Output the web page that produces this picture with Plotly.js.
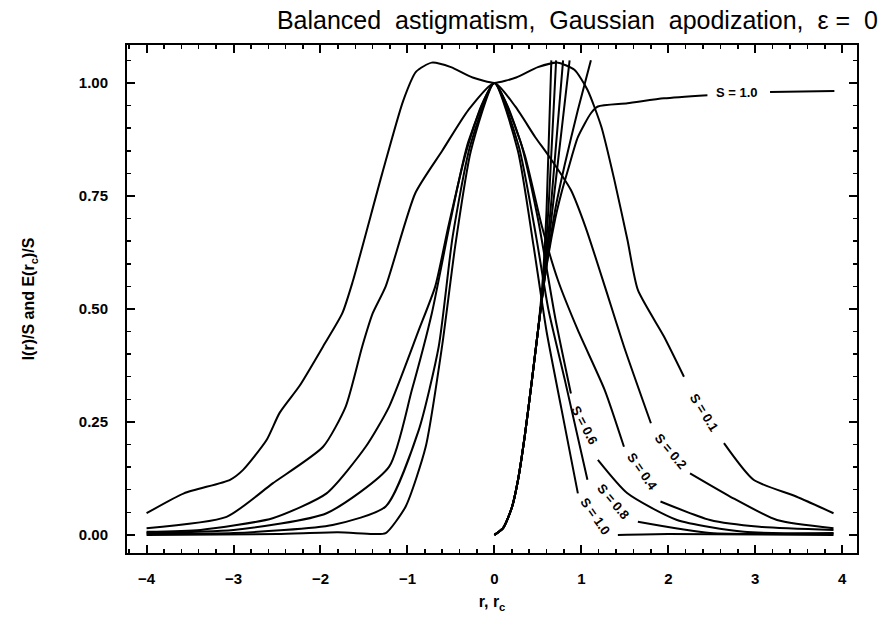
<!DOCTYPE html>
<html>
<head>
<meta charset="utf-8">
<script src="https://cdn.plot.ly/plotly-3.0.1.min.js"></script>
<style>html,body{margin:0;padding:0;background:#fff;}</style>
</head>
<body>
<div id="chart" style="width:887px;height:626px;"></div>
<script>
// ---- Data ----
// Point-spread curves I(r)/S (null = gap where the curve label sits)
const psf01X = [-4.0,-3.57,-3.04,-2.89,-2.62,-2.47,-2.24,-1.97,-1.75,-1.63,-1.29,-1.05,-0.9,-0.72,-0.5,-0.25,0,0.25,0.5,0.73,0.92,1.07,1.23,1.38,1.53,1.65,1.95,2.18,null,2.64,2.98,3.47,3.9];
const psf01Y = [0.048,0.092,0.122,0.144,0.21,0.27,0.33,0.417,0.49,0.56,0.80,0.96,1.025,1.045,1.035,1.012,1.0,1.012,1.035,1.045,1.029,0.985,0.903,0.785,0.653,0.542,0.439,0.35,null,0.203,0.122,0.085,0.048];

const psf02X = [-4.0,-3.08,-2.55,-1.97,-1.71,-1.52,-1.40,-1.25,-0.91,-0.6,-0.3,0,0.24,0.47,0.62,0.88,1.05,1.27,1.49,1.80,null,2.25,2.71,3.25,3.9];
const psf02Y = [0.015,0.04,0.114,0.195,0.284,0.417,0.49,0.55,0.756,0.85,0.94,1.0,0.948,0.88,0.84,0.763,0.68,0.55,0.417,0.247,null,0.136,0.085,0.033,0.015];

const psf04X = [-4.0,-3.38,-2.55,-1.93,-1.48,-1.21,-0.87,-0.68,-0.53,-0.33,-0.15,0,0.15,0.35,0.55,0.73,0.96,1.27,1.49,null,1.91,2.48,3.05,3.9];
const psf04Y = [0.007,0.011,0.037,0.092,0.195,0.284,0.453,0.55,0.682,0.844,0.95,1.0,0.95,0.84,0.68,0.564,0.453,0.32,0.195,null,0.074,0.033,0.018,0.011];

const psf06X = [-4.0,-3.0,-1.93,-1.21,-0.95,-0.72,-0.5,-0.3,0,0.3,0.5,0.7,0.88,null,1.19,1.53,2.1,2.87,3.9];
const psf06Y = [0.005,0.011,0.048,0.151,0.32,0.49,0.7,0.87,1.0,0.87,0.7,0.48,0.313,null,0.166,0.092,0.033,0.007,0.004];

const psf08X = [-4.0,-3.0,-1.86,-1.25,-0.87,-0.64,-0.48,-0.28,0,0.28,0.48,0.62,0.81,1.07,null,1.65,2.48,3.9];
const psf08Y = [0.003,0.004,0.022,0.063,0.232,0.417,0.66,0.86,1.0,0.86,0.66,0.5,0.343,0.122,null,0.029,0.004,0.003];

const psf10X = [-4.0,-2.5,-1.8,-1.4,-1.25,-1.02,-0.79,-0.6,-0.45,-0.27,0,0.27,0.45,0.6,0.77,0.96,null,1.42,2.0,3.9];
const psf10Y = [0.0,0.002,0.006,0.002,0.004,0.063,0.195,0.42,0.64,0.85,1.0,0.85,0.64,0.45,0.28,0.092,null,0.0,0.002,0.0];

// Encircled-energy curves E(rc)/S
const ee01X = [0,0.1,0.2,0.27,0.35,0.43,0.5,0.55,0.6,0.655];
const ee01Y = [0,0.015,0.06,0.12,0.22,0.34,0.45,0.55,0.72,1.05];
const ee02X = [0,0.1,0.2,0.27,0.35,0.43,0.5,0.56,0.63,0.71];
const ee02Y = [0,0.015,0.06,0.12,0.22,0.34,0.45,0.55,0.75,1.05];
const ee04X = [0,0.1,0.2,0.27,0.35,0.43,0.5,0.57,0.66,0.79];
const ee04Y = [0,0.015,0.06,0.12,0.22,0.34,0.45,0.56,0.75,1.05];
const ee06X = [0,0.1,0.2,0.27,0.35,0.43,0.5,0.57,0.68,0.865];
const ee06Y = [0,0.015,0.06,0.12,0.22,0.34,0.45,0.56,0.74,1.05];
const ee08X = [0,0.1,0.2,0.27,0.35,0.43,0.5,0.58,0.7,0.81,0.96,1.11];
const ee08Y = [0,0.015,0.06,0.12,0.22,0.34,0.45,0.57,0.72,0.82,0.94,1.05];
const ee10X = [0,0.1,0.2,0.27,0.35,0.43,0.5,0.58,0.7,0.77,0.85,0.96,1.11,1.19,1.53,1.95,2.45,null,3.17,3.91];
const ee10Y = [0,0.015,0.06,0.12,0.22,0.34,0.45,0.57,0.7,0.756,0.81,0.88,0.933,0.948,0.955,0.966,0.973,null,0.98,0.982];

// Curve labels
const labelText = ["S = 1.0","S = 0.1","S = 0.2","S = 0.4","S = 0.6","S = 0.8","S = 1.0"];
const labelX = [2.79, 2.41, 2.03, 1.70, 1.04, 1.37, 1.16];
const labelY = [0.978, 0.27, 0.185, 0.14, 0.243, 0.075, 0.04];
const labelAngle = [0, 58, 50, 55, 62, 50, 55];

const xTitle = "r, r<sub>c</sub>";
const yTitle = "I(r)/S and E(r<sub>c</sub>)/S";
const chartTitle = "Balanced  astigmatism,  Gaussian  apodization,  ε =  0";

// ---- Build traces ----
const series = [
  [psf01X, psf01Y],[psf02X, psf02Y],[psf04X, psf04Y],[psf06X, psf06Y],[psf08X, psf08Y],[psf10X, psf10Y],
  [ee01X, ee01Y],[ee02X, ee02Y],[ee04X, ee04Y],[ee06X, ee06Y],[ee08X, ee08Y],[ee10X, ee10Y]
];
const traces = series.map(s => ({
  x: s[0], y: s[1], type: 'scatter', mode: 'lines',
  line: {color: '#000', width: 2, shape: 'spline', smoothing: 0.6},
  connectgaps: false, hoverinfo: 'skip', showlegend: false
}));

const annotations = labelText.map((t, i) => ({
  x: labelX[i], y: labelY[i], xref: 'x', yref: 'y', text: '<b>' + t + '</b>',
  showarrow: false, textangle: labelAngle[i],
  font: {family: 'Liberation Sans, Arial, sans-serif', size: 13, color: '#000'}
}));

const tickFont = {family: 'Liberation Sans, Arial, sans-serif', size: 15, color: '#000', weight: 700};

const layout = {
  width: 887, height: 626,
  margin: {l: 127, r: 30, t: 45, b: 73},
  paper_bgcolor: '#fff', plot_bgcolor: '#fff',
  title: {
    text: chartTitle, xref: 'container', yref: 'container', x: 0.651, y: 0.968,
    xanchor: 'center', yanchor: 'middle',
    font: {family: 'Liberation Sans, Arial, sans-serif', size: 25, color: '#000'}
  },
  xaxis: {
    range: [-4.225, 4.17], tickmode: 'linear', tick0: 0, dtick: 1,
    ticks: 'inside', ticklen: 8, tickwidth: 2, tickcolor: '#000',
    minor: {tickmode: 'linear', tick0: 0, dtick: 0.2, ticks: 'inside', ticklen: 4, tickwidth: 1.5, tickcolor: '#000'},
    mirror: 'allticks', showline: true, linewidth: 2, linecolor: '#000',
    showgrid: false, zeroline: false, tickfont: tickFont, ticklabelstandoff: 11,
    title: {text: xTitle, standoff: 10, font: {family: 'Liberation Sans, Arial, sans-serif', size: 16, color: '#000', weight: 700}}
  },
  yaxis: {
    range: [-0.04, 1.084], tickmode: 'linear', tick0: 0, dtick: 0.25, tickformat: '.2f',
    ticks: 'inside', ticklen: 8, tickwidth: 2, tickcolor: '#000',
    minor: {tickmode: 'linear', tick0: 0, dtick: 0.05, ticks: 'inside', ticklen: 4, tickwidth: 1.5, tickcolor: '#000'},
    mirror: 'allticks', showline: true, linewidth: 2, linecolor: '#000',
    showgrid: false, zeroline: false, tickfont: tickFont, ticklabelstandoff: 14,
    title: {text: yTitle, standoff: 40, font: {family: 'Liberation Sans, Arial, sans-serif', size: 16, color: '#000', weight: 700}}
  },
  annotations: annotations
};

Plotly.newPlot('chart', traces, layout, {displayModeBar: false, staticPlot: true});
</script>
</body>
</html>
